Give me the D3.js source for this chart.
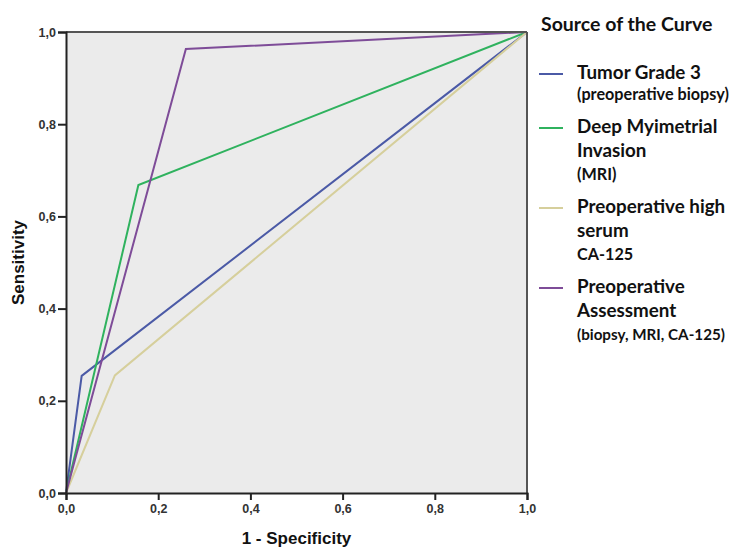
<!DOCTYPE html>
<html>
<head>
<meta charset="utf-8">
<script src="https://cdn.jsdelivr.net/npm/d3@7"></script>
<style>
  body { margin: 0; background: #fff; }
  .tick text { font-family: "Liberation Sans", Arial, sans-serif; font-weight: bold; font-size: 12.5px; fill: #333; }
  .axislabel { font-family: "Liberation Sans", Arial, sans-serif; font-weight: bold; font-size: 17px; fill: #111; }
  .legend { font-family: Lato, "Open Sans", sans-serif; font-weight: bold; fill: #111; }
</style>
</head>
<body>
<script>
// ROC curves
var seriesNames = ["Tumor Grade 3", "Deep Myimetrial Invasion", "Preoperative high serum CA-125", "Preoperative Assessment"]
var seriesColors = ["#4b5aa6", "#2fb25e", "#d6cf9c", "#7e4c98"]
var fprValues = [
  [0, 0.034, 1],
  [0, 0.157, 1],
  [0, 0.106, 1],
  [0, 0.26, 1]
]
var tprValues = [
  [0, 0.254, 1],
  [0, 0.668, 1],
  [0, 0.255, 1],
  [0, 0.963, 1]
]
var tickValues = [0, 0.2, 0.4, 0.6, 0.8, 1.0]
var legendLines = [
  [["Tumor Grade 3", 18.8], ["(preoperative biopsy)", 16.2]],
  [["Deep Myimetrial", 18.8], ["Invasion", 18.8], ["(MRI)", 16.2]],
  [["Preoperative high", 18.8], ["serum", 18.8], ["CA-125", 16.2]],
  [["Preoperative", 18.8], ["Assessment", 18.8], ["(biopsy, MRI, CA-125)", 15.2]]
]

WIDTH = 734
HEIGHT = 548
LEFT = 66
RIGHT = 527
TOP = 32
BOTTOM = 493

var svg = d3.select("body").append("svg")
  .attr("width", WIDTH).attr("height", HEIGHT)

var x = d3.scaleLinear().domain([0, 1]).range([LEFT, RIGHT])
var y = d3.scaleLinear().domain([0, 1]).range([BOTTOM, TOP])
var fmt = function(d) { return d3.format(".1f")(d).replace(".", ",") }

svg.append("rect")
  .attr("x", LEFT).attr("y", TOP)
  .attr("width", RIGHT - LEFT).attr("height", BOTTOM - TOP)
  .attr("fill", "#ebebeb")

// curves
var line = d3.line().x(function(d) { return x(d[0]) }).y(function(d) { return y(d[1]) })
for (var i = 0; i < seriesNames.length; i++)
{
  var pts = fprValues[i].map(function(v, j) { return [v, tprValues[i][j]] })
  svg.append("path").datum(pts)
    .attr("d", line)
    .attr("fill", "none")
    .attr("stroke", seriesColors[i])
    .attr("stroke-width", 2)
}

// frame top / right
svg.append("line").attr("x1", LEFT).attr("x2", RIGHT).attr("y1", TOP).attr("y2", TOP)
  .attr("stroke", "#555").attr("stroke-width", 2)
svg.append("line").attr("x1", RIGHT).attr("x2", RIGHT).attr("y1", TOP).attr("y2", BOTTOM)
  .attr("stroke", "#555").attr("stroke-width", 2)

var xAxis = svg.append("g").attr("transform", "translate(0," + BOTTOM + ")")
  .call(d3.axisBottom(x).tickValues(tickValues).tickFormat(fmt).tickSize(7).tickPadding(4))
var yAxis = svg.append("g").attr("transform", "translate(" + LEFT + ",0)")
  .call(d3.axisLeft(y).tickValues(tickValues).tickFormat(fmt).tickSize(8).tickPadding(2))
svg.selectAll(".domain").attr("stroke", "#222").attr("stroke-width", 2)
svg.selectAll(".tick line").attr("stroke", "#222").attr("stroke-width", 2)

svg.append("text").attr("class", "axislabel")
  .attr("x", (LEFT + RIGHT) / 2).attr("y", 544)
  .attr("text-anchor", "middle").text("1 - Specificity")
svg.append("text").attr("class", "axislabel")
  .attr("transform", "translate(24," + ((TOP + BOTTOM) / 2) + ")rotate(-90)")
  .attr("text-anchor", "middle").text("Sensitivity")

// legend
svg.append("text").attr("class", "legend")
  .attr("x", 541).attr("y", 31).style("font-size", "19.5px")
  .text("Source of the Curve")
var legendTop = [79, 133, 213, 293]
for (var i = 0; i < legendLines.length; i++)
{
  svg.append("line")
    .attr("x1", 539).attr("x2", 563)
    .attr("y1", legendTop[i] - 5).attr("y2", legendTop[i] - 5)
    .attr("stroke", seriesColors[i]).attr("stroke-width", 2)
  legendLines[i].forEach(function(l, j)
  {
    svg.append("text").attr("class", "legend")
      .attr("x", 577).attr("y", legendTop[i] + j * (j == legendLines[i].length - 1 && j == 1 ? 21 : 23.5))
      .style("font-size", l[1] + "px")
      .text(l[0])
  })
}
</script>
</body>
</html>
